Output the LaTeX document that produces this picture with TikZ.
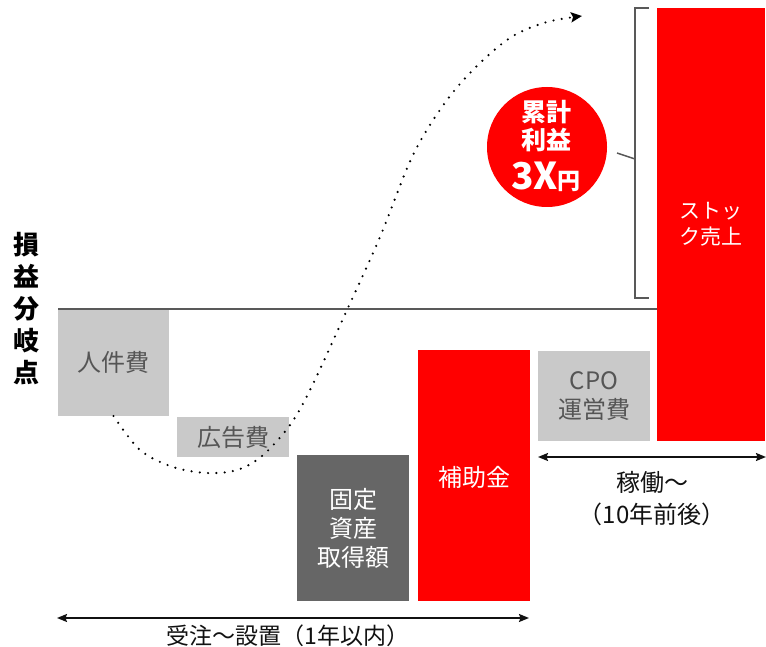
\documentclass[tikz,border=0pt]{standalone}
\usepackage{fontspec}
\setmainfont{Noto Sans CJK JP}
\usetikzlibrary{arrows.meta}
\definecolor{myred}{HTML}{FF0000}
\definecolor{lgray}{HTML}{C9C9C9}
\definecolor{dgray}{HTML}{666666}
\definecolor{tgray}{HTML}{555555}
\definecolor{lineg}{HTML}{595959}
\definecolor{txtb}{HTML}{111111}
\tikzset{
  bar/.style={inner sep=0pt, outer sep=0pt, align=center, font=\fontsize{24}{29}\selectfont},
  lbox/.style={bar, fill=lgray, text=tgray},
  dbox/.style={bar, fill=dgray, text=white},
  rbox/.style={bar, fill=myred, text=white},
  wtxt/.style={text=white, inner sep=0pt, align=center},
  span/.style={{Stealth[length=10pt,width=8pt,inset=1.5pt]}-{Stealth[length=10pt,width=8pt,inset=1.5pt]}, line width=1.6pt, txtb},
  bracketline/.style={lineg, line width=1.5pt},
  curve/.style={line width=2.4pt, line cap=round, dash pattern=on 0pt off 8.3pt, -{Stealth[length=11pt,width=10pt,inset=2pt]}},
  lbl/.style={text=txtb, inner sep=0pt, align=center, font=\fontsize{24}{32}\selectfont}
}
\begin{document}
\begin{tikzpicture}[x=1pt,y=-1pt]
\useasboundingbox (0,0) rectangle (766,647);

% bars
\node[lbox, minimum width=111pt, minimum height=107pt] (jinken) at (113.5,362.5) {人件費};
\node[lbox, minimum width=112pt, minimum height=40pt] (koukoku) at (233,437) {広告費};
\node[dbox, minimum width=112pt, minimum height=146pt] (kotei) at (353,528) {固定\\資産\\取得額};
\node[rbox, minimum width=112pt, minimum height=251pt] (hojo) at (474,475.5) {};
\node[wtxt, font=\fontsize{24}{29}\selectfont] (hojot) at (474,477) {補助金};
\node[lbox, minimum width=112pt, minimum height=90pt] (cpo) at (594,396) {CPO\\運営費};
\node[rbox, minimum width=108pt, minimum height=433pt, font=\fontsize{21}{26}\selectfont] (stock) at (711,224.5) {ストッ\\ク売上};

% break-even line
\draw[lineg, line width=1.6pt] (jinken.north west) -- (stock.west |- jinken.north west);

% left vertical label
\node[inner sep=0pt, align=center, font=\bfseries\fontsize{26}{32}\selectfont] (vlabel) at (26,309) {損\\益\\分\\岐\\点};

% bracket
\coordinate (bt) at (649,8);
\coordinate (bb) at (649,298);
\coordinate (bm) at (635,159);
\draw[bracketline] (bt) -- (635,8) -- (635,298) -- (bb);

% circle
\node[circle, fill=myred, minimum size=120pt, inner sep=0pt] (circ) at (547,147) {};
\draw[bracketline] (617,153) -- (bm);
\node[wtxt, font=\bfseries\fontsize{25}{28}\selectfont] (ruikei) at (546,112) {累計};
\node[wtxt, font=\bfseries\fontsize{25}{28}\selectfont] (rieki) at (546,140) {利益};
\node[wtxt, font=\bfseries] (three) at (546,177) {\fontsize{37}{40}\selectfont 3X\fontsize{23}{28}\selectfont 円};

% dotted profit curve
\coordinate (c1) at (140,450);
\coordinate (c2) at (173,467);
\coordinate (c3) at (207,473);
\coordinate (c4) at (237,470);
\coordinate (c5) at (262,456);
\coordinate (c6) at (290,425);
\coordinate (c7) at (312,386);
\coordinate (c8) at (347,310);
\coordinate (c9) at (380,237);
\coordinate (c10) at (413,155);
\coordinate (c11) at (447,100);
\coordinate (c12) at (480,63);
\coordinate (c13) at (513,36);
\coordinate (c14) at (547,22);
\coordinate (cend) at (582,16);
\draw[curve] plot[smooth, tension=0.55] coordinates {(jinken.south) (c1) (c2) (c3) (c4) (c5) (c6) (c7) (c8) (c9) (c10) (c11) (c12) (c13) (c14) (cend)};

% span arrows
\coordinate (a1) at (57,618);
\coordinate (a2) at (529,618);
\draw[span] (a1) -- (a2);
\node[lbl, font=\fontsize{23}{32}\selectfont] (install) at (288,636) {受注～設置（1年以内）};
\coordinate (r1) at (538,457);
\coordinate (r2) at (766,457);
\draw[span] (r1) -- (r2);
\node[lbl] (oper) at (652,499) {稼働～\\（10年前後）};
\end{tikzpicture}
\end{document}
